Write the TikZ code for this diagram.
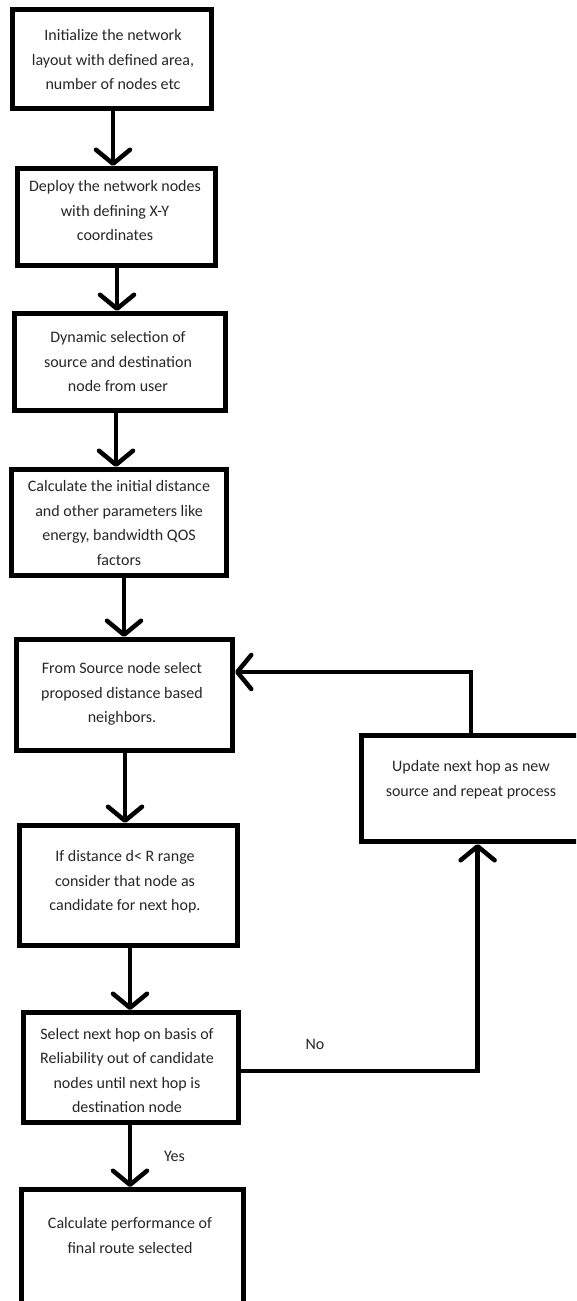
\documentclass[tikz,border=0pt]{standalone}
\usepackage{fontspec}
\setmainfont{Carlito}
\usetikzlibrary{arrows.meta}
\newcommand{\fst}{\rule{0pt}{12pt}}
\begin{document}
\begin{tikzpicture}[x=1pt,y=-1pt,
  box/.style={draw, line width=5pt, inner sep=0pt},
  txt/.style={align=center, anchor=north, inner sep=0pt, font=\fontsize{16}{24.5}\selectfont, text=black!85},
  lbl/.style={inner sep=0pt, font=\fontsize{16}{24}\selectfont, text=black!85},
  arr/.style={line width=4.5pt, -{Straight Barb[length=14pt,width=34pt,round]}}]
\useasboundingbox (0,0) rectangle (576,1301);
\clip (0,0) rectangle (576,1301);
% boxes
\node[box, minimum width=199.5pt, minimum height=99pt]  (b1) at (111.75,59) {};
\node[box, minimum width=198pt,   minimum height=97pt]  (b2) at (116.5,217) {};
\node[box, minimum width=211pt,   minimum height=97pt]  (b3) at (120,362) {};
\node[box, minimum width=215pt,   minimum height=106pt] (b4) at (119,522.5) {};
\node[box, minimum width=216.5pt, minimum height=111pt] (b5) at (124.25,695) {};
\node[box, minimum width=217.5pt, minimum height=120pt] (b6) at (128.25,885.5) {};
\node[box, minimum width=228.5pt, minimum height=106pt] (b7) at (475.75,788.5) {};
\node[box, minimum width=215pt,   minimum height=110pt] (b8) at (131,1067.5) {};
\node[box, minimum width=222pt,   minimum height=130.5pt] (b9) at (132,1254.75) {};
% texts
\node[txt] (t1) at (113,28.7)   {\fst Initialize the network\\layout with defined area,\\number of nodes etc};
\node[txt] (t2) at (115,179.7)  {\fst Deploy the network nodes\\with defining X-Y\\coordinates};
\node[txt] (t3) at (118,330.7)  {\fst Dynamic selection of\\source and destination\\node from user};
\node[txt] (t4) at (119,479.7)  {\fst Calculate the initial distance\\and other parameters like\\energy, bandwidth QOS\\factors};
\node[txt] (t5) at (122,661.7)  {\fst From Source node select\\proposed distance based\\neighbors.};
\node[txt] (t6) at (125,849.7)  {\fst If distance d< R range\\consider that node as\\candidate for next hop.};
\node[txt] (t7) at (471,759.7)  {\fst Update next hop as new\\source and repeat process};
\node[txt] (t8) at (127,1027.2) {\fst Select next hop on basis of\\Reliability out of candidate\\nodes until next hop is\\destination node};
\node[txt] (t9) at (130,1216.7) {\fst Calculate performance of\\final route selected};
\node[lbl] (no)  at (315,1044)  {No};
\node[lbl] (yes) at (174.5,1156) {Yes};
% connector x positions
\coordinate (x1) at (113,0);
\coordinate (x2) at (117,0);
\coordinate (x3) at (116,0);
\coordinate (x4) at (124,0);
\coordinate (x5) at (125,0);
\coordinate (x6) at (130,0);
\coordinate (fb) at (471,672);
\coordinate (nc) at (477.6,1071);
% connectors
\draw[arr] (b1.south -| x1) -- (b2.north -| x1);
\draw[arr] (b2.south -| x2) -- (b3.north -| x2);
\draw[arr] (b3.south -| x3) -- (b4.north -| x3);
\draw[arr] (b4.south -| x4) -- (b5.north -| x4);
\draw[arr] (b5.south -| x5) -- (b6.north -| x5);
\draw[arr] (b6.south -| x6) -- (b8.north -| x6);
\draw[arr] (b8.south -| x6) -- (b9.north -| x6);
\draw[arr] (b7.north -| fb) -- (fb) -- (b5.east |- fb);
\draw[arr] (b8.east |- nc) -- (nc) -- (b7.south -| nc);
\end{tikzpicture}
\end{document}
